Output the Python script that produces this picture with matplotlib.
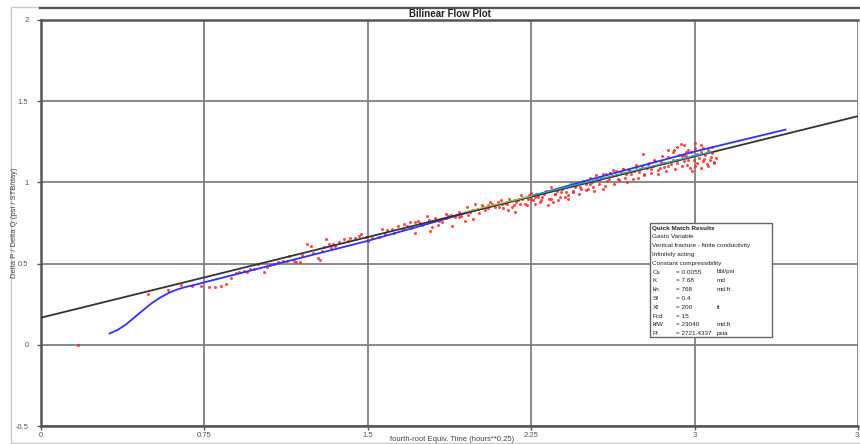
import matplotlib.pyplot as plt
from matplotlib.patches import Rectangle
from matplotlib.lines import Line2D

plt.rcParams['font.family'] = ['Liberation Sans', 'DejaVu Sans']

# --- data --- #
# straight-line fit (bilinear flow)
fit_x = [0.0, 3.75]
fit_y = [0.167, 1.408]

# model curve
model_x = [0.315, 0.35, 0.39, 0.43, 0.47, 0.51, 0.55, 0.59, 0.63, 0.67,
           0.72, 0.75, 1.0, 1.25, 1.5, 1.75, 2.0, 2.25, 2.5, 2.75,
           3.0, 3.2, 3.417]
model_y = [0.07, 0.09, 0.125, 0.17, 0.215, 0.258, 0.293, 0.322, 0.343, 0.358,
           0.374, 0.385, 0.47, 0.555, 0.64, 0.735, 0.83, 0.915, 1.01, 1.1,
           1.19, 1.255, 1.325]

# selected region lines
sel1_x = [1.95, 2.25]
sel1_y = [0.82, 0.915]
sel2_x = [2.25, 3.08]
sel2_y = [0.918, 1.19]

# measured points
meas_x = [0.17, 0.49, 0.582, 0.643, 0.693, 0.735, 0.77, 0.80, 0.826, 0.848,
          0.872, 0.895, 0.91, 0.93, 0.946, 0.96, 0.976, 0.995, 1.024, 1.036,
          1.05, 1.07, 1.09, 1.11, 1.13, 1.14, 1.16, 1.17, 1.19, 1.2,
          1.22, 1.24, 1.25, 1.27, 1.28, 1.29, 1.3, 1.31, 1.32, 1.33,
          1.34, 1.35, 1.37, 1.39, 1.41, 1.42, 1.44, 1.46, 1.47, 1.49,
          1.5, 1.52, 1.55, 1.565, 1.59, 1.61, 1.64, 1.665, 1.68, 1.694,
          1.717, 1.717, 1.73, 1.748, 1.77, 1.786, 1.794, 1.81, 1.825, 1.84,
          1.857, 1.87, 1.886, 1.9, 1.917, 1.93, 1.947, 1.954, 1.97, 1.985,
          1.99, 2.007, 2.022, 2.038, 2.053, 2.068, 2.083, 2.098, 2.114, 2.13,
          2.144, 2.16, 2.175, 2.19, 2.205, 2.22, 2.236, 2.25, 2.267, 1.58,
          1.62, 1.66, 1.70, 1.74, 1.78, 1.82, 1.86, 1.88, 1.92, 1.96,
          2.251, 2.267, 2.282, 2.297, 2.312, 2.327, 2.343, 2.358, 2.373, 2.388,
          2.404, 2.419, 2.434, 2.442, 2.457, 2.472, 2.487, 2.503, 2.518, 2.533,
          2.548, 2.563, 2.579, 2.594, 2.609, 2.624, 2.64, 2.655, 2.67, 2.685,
          2.7, 2.716, 2.731, 2.746, 2.762, 2.769, 2.784, 2.8, 2.815, 2.83,
          2.845, 2.86, 2.876, 2.891, 2.906, 2.921, 2.937, 2.952, 2.967, 2.982,
          2.998, 3.013, 3.028, 3.043, 3.058, 3.074, 3.089, 1.98, 2.01, 2.03,
          2.05, 2.06, 2.08, 2.1, 2.11, 2.12, 2.14, 2.15, 2.17, 2.18,
          2.2, 2.21, 2.23, 2.24, 2.26, 2.27, 2.29, 2.3, 2.32, 2.33,
          2.35, 2.36, 2.38, 2.39, 2.41, 2.42, 2.44, 2.45, 2.47, 2.48,
          2.5, 2.51, 2.53, 2.54, 2.56, 2.57, 2.59, 2.6, 2.62, 2.63,
          2.65, 2.66, 2.68, 2.69, 2.71, 2.72, 2.74, 2.75, 2.77, 2.78,
          2.8, 2.81, 2.83, 2.84, 2.86, 2.87, 2.88, 2.9, 2.91, 2.92,
          2.93, 2.94, 2.95, 2.96, 2.97, 2.98, 2.99, 3.0, 3.01, 3.02,
          3.03, 3.04, 3.05, 3.06, 3.07, 3.08, 3.09, 3.1, 3.0, 2.97,
          2.95, 2.9, 2.85, 2.82, 2.79, 2.76, 2.73, 2.7, 2.67, 2.64,
          2.61, 2.58, 2.55, 2.52, 2.49, 2.46, 2.43, 2.4, 2.37, 2.34,
          2.31, 2.28, 2.88, 2.92, 2.96, 3.0, 3.04, 3.08, 2.99, 3.03,
          3.06, 2.94]
meas_y = [0.0, 0.313, 0.34, 0.368, 0.36, 0.362, 0.356, 0.357, 0.363, 0.377,
          0.414, 0.445, 0.451, 0.455, 0.451, 0.465, 0.469, 0.5, 0.451, 0.48,
          0.49, 0.5, 0.507, 0.517, 0.517, 0.548, 0.513, 0.507, 0.507, 0.554,
          0.62, 0.61, 0.563, 0.537, 0.52, 0.578, 0.605, 0.65, 0.623, 0.598,
          0.62, 0.61, 0.63, 0.65, 0.64, 0.66, 0.656, 0.67, 0.68, 0.664,
          0.64, 0.656, 0.662, 0.714, 0.704, 0.714, 0.734, 0.745, 0.734, 0.755,
          0.687, 0.755, 0.76, 0.74, 0.796, 0.7, 0.724, 0.782, 0.765, 0.755,
          0.806, 0.796, 0.734, 0.786, 0.817, 0.796, 0.761, 0.848, 0.817, 0.776,
          0.868, 0.837, 0.858, 0.827, 0.858, 0.868, 0.848, 0.878, 0.868, 0.872,
          0.827, 0.848, 0.817, 0.889, 0.92, 0.868, 0.899, 0.934, 0.909, 0.68,
          0.69, 0.71, 0.72, 0.75, 0.77, 0.74, 0.78, 0.80, 0.79, 0.80,
          0.899, 0.868, 0.92, 0.889, 0.94, 0.858, 0.899, 0.93, 0.889, 0.94,
          0.909, 0.92, 0.992, 0.94, 0.981, 0.971, 1.002, 0.951, 0.992, 0.971,
          1.043, 1.012, 0.961, 1.053, 1.022, 1.074, 1.043, 1.012, 1.084, 1.053,
          1.074, 1.022, 1.094, 1.063, 1.173, 1.043, 1.115, 1.084, 1.135, 1.074,
          1.125, 1.094, 1.156, 1.115, 1.197, 1.135, 1.234, 1.166, 1.105, 1.187,
          1.135, 1.176, 1.228, 1.146, 1.115, 1.156, 1.125, 0.83, 0.81, 0.85,
          0.84, 0.88, 0.86, 0.85, 0.89, 0.84, 0.87, 0.9, 0.86, 0.88,
          0.87, 0.9, 0.86, 0.92, 0.89, 0.93, 0.88, 0.91, 0.95, 0.9,
          0.88, 0.93, 0.91, 0.96, 0.94, 0.9, 0.95, 0.97, 0.93, 0.96,
          0.99, 0.96, 1.0, 0.95, 0.99, 1.03, 0.98, 1.01, 1.04, 0.99,
          1.02, 1.06, 1.03, 1.0, 1.05, 1.07, 1.03, 1.08, 1.05, 1.09,
          1.06, 1.1, 1.05, 1.09, 1.12, 1.07, 1.1, 1.14, 1.08, 1.12,
          1.17, 1.1, 1.13, 1.19, 1.14, 1.09, 1.16, 1.21, 1.12, 1.15,
          1.19, 1.13, 1.17, 1.1, 1.14, 1.18, 1.12, 1.15, 1.1, 1.2,
          1.23, 1.19, 1.16, 1.13, 1.12, 1.1, 1.11, 1.08, 1.08, 1.07,
          1.06, 1.05, 1.02, 1.03, 1.01, 0.99, 0.98, 0.97, 0.95, 0.97,
          0.93, 0.91, 1.2, 1.22, 1.16, 1.24, 1.21, 1.22, 1.07, 1.09,
          1.2, 1.16]

x_ticks = [0, 0.75, 1.5, 2.25, 3, 3.75]
x_tick_labels = ['0', '0.75', '1.5', '2.25', '3', '3.']
y_ticks = [-0.5, 0, 0.5, 1, 1.5, 2]
y_tick_labels = ['-0.5', '0', '0.5', '1', '1.5', '2']

box_header = ['Quick Match Results', 'Gasto Variable',
              'Vertical fracture - finite conductivity',
              'Infinitely acting', 'Constant compressibility']
param_names = ['Cs', 'K', 'kh', 'Sf', 'Xf', 'Fcd', 'kfW', 'Pi']
param_values = ['= 0.0055', '= 7.68', '= 768', '= 0.4', '= 200', '= 15',
                '= 23040', '= 2721.4337']
param_units = ['bbl/psi', 'md', 'md.ft', '', 'ft', '', 'md.ft', 'psia']

# --- figure --- #
W, H = 860, 444
fig = plt.figure(figsize=(W / 100, H / 100), dpi=100)
fig.patch.set_facecolor('white')


def fx(px):
    return px / W


def fy(py):
    return 1 - py / H


# outer frame
fig.add_artist(Rectangle((fx(11), fy(443)), fx(860) - fx(11), fy(7) - fy(443),
                         transform=fig.transFigure, fill=False,
                         edgecolor='#c8c8c8', linewidth=1.0))
fig.add_artist(Line2D([fx(40), 1.0], [fy(8), fy(8)], transform=fig.transFigure,
                      color='#555555', linewidth=1.6))

ax = fig.add_axes([fx(41), fy(426), fx(858) - fx(41), fy(20) - fy(426)])
ax.set_xlim(0, 3.75)
ax.set_ylim(-0.5, 2)

ax.set_xticks(x_ticks)
ax.set_xticklabels(x_tick_labels)
ax.set_yticks(y_ticks)
ax.set_yticklabels(y_tick_labels)
ax.tick_params(axis='both', labelsize=5.5, labelcolor='#555555',
               color='#555555', length=3, width=1)
ax.tick_params(axis='x', pad=1.5)
ax.tick_params(axis='y', pad=6)

ax.grid(True, color='#808080', linewidth=1.3)
ax.set_axisbelow(True)
for side in ['left', 'bottom', 'top']:
    ax.spines[side].set_color('#555555')
    ax.spines[side].set_linewidth(1.8)
ax.spines['right'].set_visible(False)

ax.plot(meas_x, meas_y, linestyle='none', marker='o', markersize=2.2,
        markeredgewidth=0, color='#ff2020', alpha=0.8, zorder=3)
ax.plot(model_x, model_y, color='#3030ff', linewidth=1.3, zorder=4)
ax.plot(fit_x, fit_y, color='#333333', linewidth=1.3, zorder=4)
ax.plot(sel1_x, sel1_y, color='#b0c040', linewidth=0.9, zorder=5)
ax.plot(sel2_x, sel2_y, color='#20b0b0', linewidth=0.9, zorder=5)

# title and labels
fig.text(fx(450), fy(14), 'Bilinear Flow Plot', ha='center', va='center',
         fontsize=7, fontweight='bold', color='#222222')
fig.text(fx(452), fy(439), 'fourth-root Equiv. Time (hours**0.25)',
         ha='center', va='center', fontsize=5.5, color='#444444')
fig.text(fx(15), fy(223), 'Delta P / Delta Q (psi / STB/day)', rotation=90,
         ha='center', va='center', fontsize=5.5, color='#444444')

# quick match box
fig.add_artist(Rectangle((fx(650), fy(336.5)), fx(772) - fx(650),
                         fy(223) - fy(336.5), transform=fig.transFigure,
                         facecolor='white', edgecolor='#666666',
                         linewidth=1.0, zorder=10))
row_h = 8.8
y0 = 228
for i, line in enumerate(box_header):
    fig.text(fx(652.5), fy(y0 + i * row_h), line, ha='left', va='center',
             fontsize=4.6, color='#222222', zorder=11,
             fontweight='bold' if i == 0 else 'normal')
for j, name in enumerate(param_names):
    yy = fy(y0 + (len(box_header) + j) * row_h)
    fig.text(fx(652.5), yy, name, ha='left', va='center', fontsize=4.6,
             color='#222222', zorder=11)
    fig.text(fx(676.5), yy, param_values[j], ha='left', va='center',
             fontsize=4.6, color='#222222', zorder=11)
    fig.text(fx(716.5), yy, param_units[j], ha='left', va='center',
             fontsize=4.6, color='#222222', zorder=11)

fig.savefig('out.png', dpi=100)
